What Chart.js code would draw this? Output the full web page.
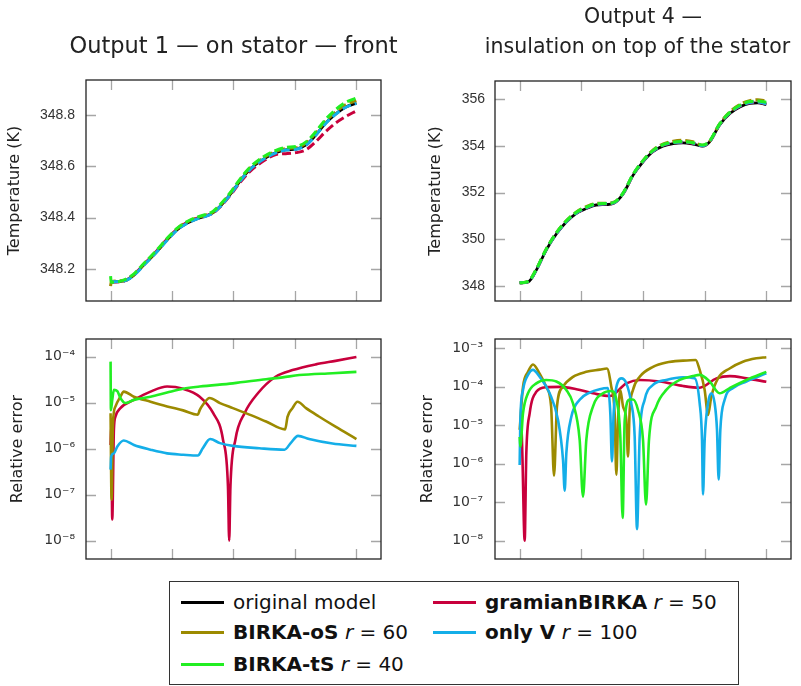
<!DOCTYPE html>
<html>
<head>
<meta charset="utf-8">
<script src="https://cdn.jsdelivr.net/npm/chart.js@4.4.0/dist/chart.umd.min.js"></script>
<style>
  body { margin: 0; background: #fff; width: 801px; height: 686px; position: relative; overflow: hidden; font-family: 'DejaVu Sans', sans-serif; }
  canvas { position: absolute; left: 0; top: 0; }
  #legend { position: absolute; left: 169px; top: 581px; width: 570px; height: 104px; box-sizing: border-box; border: 1.3px solid #333; background: #fff; }
  .item { position: absolute; height: 30px; display: flex; align-items: center; font-size: 20px; color: #111; }
  .item span { white-space: pre; }
  .swatch { width: 43px; height: 3px; margin-right: 9px; }
</style>
</head>
<body>
<canvas id="tl" width="801" height="686"></canvas>
<canvas id="tr" width="801" height="686"></canvas>
<canvas id="bl" width="801" height="686"></canvas>
<canvas id="br" width="801" height="686"></canvas>

<div id="legend">
  <div class="item" style="left:11px; top:5px;"><div class="swatch" style="background:#000"></div><span>original model</span></div>
  <div class="item" style="left:263px; top:5px;"><div class="swatch" style="background:#c8003c"></div><span><b>gramianBIRKA</b> <i>r</i> = 50</span></div>
  <div class="item" style="left:11px; top:35px;"><div class="swatch" style="background:#9c8a00"></div><span><b>BIRKA-oS</b> <i>r</i> = 60</span></div>
  <div class="item" style="left:263px; top:35px;"><div class="swatch" style="background:#14aee8"></div><span><b>only V</b> <i>r</i> = 100</span></div>
  <div class="item" style="left:11px; top:67px;"><div class="swatch" style="background:#22ee22"></div><span><b>BIRKA-tS</b> <i>r</i> = 40</span></div>
</div>

<script>
// ---- data (x in tick units 0..4) ----
const xTicks = [0, 1, 2, 3, 4];

// Output 1 temperature (K)
const tlOriginal = [[0,348.149],[0.22,348.153],[0.38,348.176],[0.54,348.215],[0.75,348.267],[0.92,348.313],[1.08,348.352],[1.24,348.378],[1.40,348.395],[1.56,348.407],[1.67,348.419],[1.78,348.443],[1.94,348.488],[2.10,348.540],[2.26,348.586],[2.48,348.627],[2.69,348.653],[2.85,348.664],[3.02,348.667],[3.18,348.683],[3.34,348.722],[3.50,348.768],[3.66,348.803],[3.82,348.830],[4.00,348.846]];
const tlGramian = [[0,348.149],[0.22,348.153],[0.38,348.177],[0.54,348.217],[0.75,348.270],[0.92,348.316],[1.08,348.355],[1.24,348.381],[1.40,348.397],[1.56,348.407],[1.67,348.418],[1.78,348.441],[1.94,348.485],[2.10,348.535],[2.26,348.578],[2.48,348.619],[2.69,348.646],[2.85,348.649],[3.02,348.653],[3.18,348.664],[3.34,348.696],[3.50,348.735],[3.66,348.768],[3.82,348.793],[4.00,348.816]];
const tlOS = [[0,348.133],[0.01,348.150],[0.22,348.154],[0.38,348.178],[0.54,348.218],[0.75,348.270],[0.92,348.317],[1.08,348.356],[1.24,348.382],[1.40,348.399],[1.56,348.410],[1.67,348.422],[1.78,348.447],[1.94,348.492],[2.10,348.545],[2.26,348.591],[2.48,348.632],[2.69,348.658],[2.85,348.669],[3.02,348.672],[3.18,348.690],[3.34,348.730],[3.50,348.776],[3.66,348.811],[3.82,348.839],[4.00,348.855]];
const tlOnlyV = [[0,348.150],[0.22,348.153],[0.38,348.175],[0.54,348.214],[0.75,348.266],[0.92,348.312],[1.08,348.351],[1.24,348.377],[1.40,348.394],[1.56,348.406],[1.67,348.418],[1.78,348.442],[1.94,348.487],[2.10,348.539],[2.26,348.585],[2.48,348.626],[2.69,348.652],[2.85,348.663],[3.02,348.666],[3.18,348.682],[3.34,348.721],[3.50,348.767],[3.66,348.802],[3.82,348.829],[4.00,348.845]];
const tlTS = [[0,348.172],[0.01,348.148],[0.22,348.157],[0.38,348.181],[0.54,348.221],[0.75,348.273],[0.92,348.319],[1.08,348.358],[1.24,348.384],[1.40,348.401],[1.56,348.413],[1.67,348.425],[1.78,348.450],[1.94,348.495],[2.10,348.548],[2.26,348.594],[2.48,348.636],[2.69,348.662],[2.85,348.673],[3.02,348.677],[3.18,348.695],[3.34,348.735],[3.50,348.783],[3.66,348.820],[3.82,348.848],[4.00,348.866]];
const tlTicks = [348.2, 348.4, 348.6, 348.8];

// Output 4 temperature (K)
const trOriginal = [[0,348.14],[0.14,348.18],[0.27,348.68],[0.43,349.54],[0.60,350.25],[0.76,350.75],[0.92,351.11],[1.08,351.32],[1.24,351.47],[1.41,351.49],[1.54,351.56],[1.68,351.96],[1.84,352.75],[2.00,353.32],[2.16,353.75],[2.32,353.99],[2.49,354.10],[2.65,354.13],[2.81,354.08],[2.97,353.99],[3.08,354.17],[3.24,354.89],[3.41,355.39],[3.57,355.67],[3.73,355.82],[3.86,355.84],[4.00,355.77]];
const trGramian = [[0,348.14],[0.14,348.19],[0.27,348.70],[0.43,349.56],[0.60,350.27],[0.76,350.77],[0.92,351.13],[1.08,351.34],[1.24,351.49],[1.41,351.51],[1.54,351.58],[1.68,351.97],[1.84,352.76],[2.00,353.34],[2.16,353.77],[2.32,354.02],[2.49,354.13],[2.65,354.16],[2.81,354.11],[2.97,354.01],[3.08,354.18],[3.24,354.90],[3.41,355.41],[3.57,355.70],[3.73,355.85],[3.86,355.87],[4.00,355.80]];
const trOS = [[0,348.14],[0.14,348.20],[0.27,348.72],[0.43,349.58],[0.60,350.30],[0.76,350.80],[0.92,351.17],[1.08,351.40],[1.24,351.54],[1.41,351.55],[1.54,351.60],[1.68,351.98],[1.84,352.78],[2.00,353.37],[2.16,353.82],[2.32,354.08],[2.49,354.20],[2.65,354.24],[2.81,354.18],[2.97,354.03],[3.08,354.20],[3.24,354.93],[3.41,355.46],[3.57,355.77],[3.73,355.94],[3.86,355.98],[4.00,355.92]];
const trOnlyV = [[0,348.14],[0.14,348.19],[0.27,348.70],[0.43,349.56],[0.60,350.27],[0.76,350.77],[0.92,351.13],[1.08,351.35],[1.24,351.50],[1.41,351.52],[1.54,351.58],[1.68,351.98],[1.84,352.77],[2.00,353.35],[2.16,353.78],[2.32,354.03],[2.49,354.14],[2.65,354.17],[2.81,354.12],[2.97,354.01],[3.08,354.19],[3.24,354.91],[3.41,355.42],[3.57,355.71],[3.73,355.86],[3.86,355.88],[4.00,355.80]];
const trTS = [[0,348.14],[0.14,348.20],[0.27,348.72],[0.43,349.58],[0.60,350.30],[0.76,350.80],[0.92,351.16],[1.08,351.38],[1.24,351.52],[1.41,351.54],[1.54,351.60],[1.68,352.00],[1.84,352.79],[2.00,353.37],[2.16,353.80],[2.32,354.05],[2.49,354.16],[2.65,354.19],[2.81,354.14],[2.97,354.04],[3.08,354.21],[3.24,354.93],[3.41,355.45],[3.57,355.74],[3.73,355.90],[3.86,355.92],[4.00,355.87]];
const trTicks = [348, 350, 352, 354, 356];

// Output 1 relative error
const blGramian = [[0,1.2e-6],[0.01,3.0e-6],[0.027,2.9e-8],[0.054,2.6e-6],[0.08,5.0e-6],[0.16,7.6e-6],[0.38,1.15e-5],[0.65,1.74e-5],[0.92,2.24e-5],[1.18,2.0e-5],[1.45,1.35e-5],[1.67,5.9e-6],[1.83,1.55e-6],[1.91,1.5e-7],[1.93,1.0e-8],[1.95,1.5e-7],[2.03,1.55e-6],[2.18,5.9e-6],[2.40,1.62e-5],[2.69,3.7e-5],[2.96,5.1e-5],[3.34,6.8e-5],[3.66,8.1e-5],[4.0,9.8e-5]];
const blOS = [[0,5.9e-6],[0.016,7.8e-8],[0.038,3.5e-6],[0.08,8.3e-6],[0.16,1.35e-5],[0.215,1.74e-5],[0.38,1.35e-5],[0.65,1.05e-5],[0.92,8.3e-6],[1.18,6.8e-6],[1.42,5.5e-6],[1.45,6.9e-6],[1.50,8.9e-6],[1.61,1.26e-5],[1.78,9.8e-6],[1.99,7.6e-6],[2.26,5.5e-6],[2.53,3.9e-6],[2.84,2.63e-6],[2.88,5.0e-6],[2.96,7.6e-6],[3.04,1.05e-5],[3.18,7.6e-6],[3.39,5.0e-6],[3.66,3.0e-6],[4.0,1.62e-6]];
const blOnlyV = [[0,3.5e-7],[0.01,6.8e-7],[0.054,7.9e-7],[0.11,1.12e-6],[0.215,1.51e-6],[0.38,1.2e-6],[0.65,9.5e-7],[0.92,7.9e-7],[1.18,7.4e-7],[1.42,7.1e-7],[1.50,1.02e-6],[1.62,1.62e-6],[1.78,1.32e-6],[1.99,1.15e-6],[2.42,1.02e-6],[2.83,9.5e-7],[2.93,1.32e-6],[3.05,1.9e-6],[3.23,1.62e-6],[3.61,1.29e-6],[4.0,1.15e-6]];
const blTS = [[0,7.8e-5],[0.005,6.9e-6],[0.027,1.15e-5],[0.054,1.9e-5],[0.11,1.78e-5],[0.16,1.26e-5],[0.24,9.8e-6],[0.38,1.15e-5],[0.65,1.35e-5],[0.92,1.66e-5],[1.18,2.0e-5],[1.45,2.24e-5],[1.99,2.63e-5],[2.53,3.24e-5],[2.80,3.55e-5],[3.07,3.98e-5],[3.61,4.37e-5],[4.0,4.68e-5]];
const blTicks = [1e-8, 1e-7, 1e-6, 1e-5, 1e-4];

// Output 4 relative error
const brGramian = [[0,9.8e-6],[0.027,9.3e-6],[0.043,1.9e-6],[0.081,1.0e-8],[0.108,1.9e-6],[0.162,2.04e-5],[0.27,7.4e-5],[0.43,9.8e-5],[0.65,1.0e-4],[0.92,8.7e-5],[1.19,6.8e-5],[1.46,5.75e-5],[1.73,1.23e-4],[1.95,1.51e-4],[2.27,1.38e-4],[2.65,1.05e-4],[2.92,9.5e-5],[3.19,1.66e-4],[3.41,1.9e-4],[3.68,1.66e-4],[4.0,1.35e-4]];
const brOS = [[0,7.6e-6],[0.054,1.0e-4],[0.135,2.45e-4],[0.216,3.8e-4],[0.324,2.2e-4],[0.43,1.0e-4],[0.51,3.1e-5],[0.557,4.9e-7],[0.605,3.1e-5],[0.70,1.0e-4],[0.865,1.82e-4],[1.08,2.45e-4],[1.30,2.8e-4],[1.416,3.0e-4],[1.486,1.0e-4],[1.54,2.04e-5],[1.568,5.2e-7],[1.595,1.35e-5],[1.632,8.3e-5],[1.676,3.1e-5],[1.73,1.35e-5],[1.757,1.55e-6],[1.784,2.5e-5],[1.838,8.3e-5],[1.946,1.82e-4],[2.162,3.3e-4],[2.378,4.3e-4],[2.649,4.8e-4],[2.854,5.0e-4],[2.919,2.75e-4],[3.0,8.3e-5],[3.054,1.86e-5],[3.108,5.6e-5],[3.216,1.66e-4],[3.405,3.0e-4],[3.62,4.5e-4],[3.838,5.5e-4],[4.0,5.9e-4]];
const brOnlyV = [[0,9.3e-7],[0.011,1.35e-5],[0.054,8.3e-5],[0.135,2.04e-4],[0.216,2.75e-4],[0.324,1.82e-4],[0.486,6.8e-5],[0.622,1.38e-5],[0.703,1.26e-6],[0.73,2.0e-7],[0.757,1.9e-6],[0.838,1.66e-5],[0.973,4.6e-5],[1.135,7.1e-5],[1.297,8.7e-5],[1.432,9.3e-5],[1.47,2.04e-5],[1.497,1.15e-6],[1.524,2.04e-5],[1.595,1.38e-4],[1.649,1.66e-4],[1.73,1.23e-4],[1.81,3.7e-5],[1.865,5.1e-6],[1.903,2.0e-8],[1.946,5.1e-6],[2.027,4.6e-5],[2.162,1.12e-4],[2.378,1.51e-4],[2.649,1.78e-4],[2.838,1.66e-4],[2.919,3.7e-5],[2.957,4.2e-6],[2.973,1.6e-7],[3.0,4.2e-6],[3.054,3.7e-5],[3.108,6.8e-5],[3.162,3.7e-5],[3.2,7.6e-6],[3.227,3.9e-7],[3.254,7.6e-6],[3.324,4.6e-5],[3.46,9.3e-5],[3.676,1.38e-4],[4.0,2.24e-4]];
const brTS = [[0,5.0e-6],[0.011,2.8e-6],[0.054,2.04e-5],[0.135,6.8e-5],[0.27,1.23e-4],[0.43,1.51e-4],[0.595,1.38e-4],[0.757,8.3e-5],[0.865,3.7e-5],[0.973,4.2e-6],[1.027,1.4e-7],[1.081,4.2e-6],[1.19,3.1e-5],[1.351,6.8e-5],[1.486,7.8e-5],[1.568,4.6e-5],[1.632,5.1e-6],[1.67,3.9e-8],[1.703,1.35e-5],[1.784,4.7e-5],[1.838,4.7e-5],[1.919,2.5e-5],[2.0,4.2e-6],[2.049,8.7e-8],[2.097,4.2e-6],[2.216,3.1e-5],[2.378,8.3e-5],[2.595,1.51e-4],[2.811,1.9e-4],[2.919,2.04e-4],[3.081,1.38e-4],[3.243,6.8e-5],[3.405,9.3e-5],[3.676,1.51e-4],[4.0,2.45e-4]];
const brTicks = [1e-8, 1e-7, 1e-6, 1e-5, 1e-4, 1e-3];

const COLORS = { original: '#000000', gramian: '#c8003c', os: '#9c8a00', onlyV: '#14aee8', ts: '#22ee22' };
const FONT = "'DejaVu Sans', sans-serif";
const TICK_FONT = "'Liberation Sans', 'DejaVu Sans', sans-serif";

// inner tick marks + frame, pgfplots style
const frameTicks = {
  id: 'frameTicks',
  beforeDatasetsDraw(chart) {
    const { ctx, chartArea: a, scales: { x, y } } = chart;
    ctx.save();
    ctx.strokeStyle = '#a6a6a6';
    ctx.lineWidth = 1.3;
    ctx.beginPath();
    xTicks.forEach(v => {
      const px = Math.round(x.getPixelForValue(v)) + 0.5;
      ctx.moveTo(px, a.bottom); ctx.lineTo(px, a.bottom - 10);
      ctx.moveTo(px, a.top); ctx.lineTo(px, a.top + 10);
    });
    y.ticks.forEach(t => {
      const py = Math.round(y.getPixelForValue(t.value)) + 0.5;
      ctx.moveTo(a.left, py); ctx.lineTo(a.left + 10, py);
      ctx.moveTo(a.right, py); ctx.lineTo(a.right - 10, py);
    });
    ctx.stroke();
    ctx.restore();
  },
  afterDatasetsDraw(chart) {
    const { ctx, chartArea: a } = chart;
    ctx.save();
    ctx.strokeStyle = '#222';
    ctx.lineWidth = 1.3;
    ctx.strokeRect(a.left, a.top, a.right - a.left, a.bottom - a.top);
    ctx.restore();
  }
};

// panel heading lines (drawn without width squeezing)
const panelTitle = {
  id: 'panelTitle',
  afterDraw(chart, args, opts) {
    if (!opts.lines) return;
    const { ctx } = chart;
    ctx.save();
    ctx.font = opts.size + 'px ' + FONT;
    ctx.fillStyle = '#222';
    ctx.textAlign = 'center';
    ctx.textBaseline = 'alphabetic';
    opts.lines.forEach((t, i) => ctx.fillText(t, opts.centers[i], opts.baselines[i]));
    ctx.restore();
  }
};

const SUP = { '-': '\u207b', '0': '\u2070', '1': '\u00b9', '2': '\u00b2', '3': '\u00b3', '4': '\u2074', '5': '\u2075', '6': '\u2076', '7': '\u2077', '8': '\u2078', '9': '\u2079' };
function powLabel(v) {
  const e = String(Math.round(Math.log10(v)));
  return '10' + e.split('').map(c => SUP[c]).join('');
}

function series(label, data, color, dashed, order, width) {
  return {
    label: label,
    data: data.map(p => ({ x: p[0], y: p[1] })),
    borderColor: color,
    borderWidth: width,
    borderDash: dashed ? [9, 4] : [],
    pointRadius: 0,
    fill: false,
    cubicInterpolationMode: 'monotone',
    order: order
  };
}

function makePanel(id, opts) {
  const ctx = document.getElementById(id).getContext('2d');
  return new Chart(ctx, {
    type: 'line',
    data: { datasets: opts.datasets },
    options: {
      responsive: false,
      animation: false,
      events: [],
      layout: { padding: opts.padding },
      plugins: {
        legend: { display: false },
        tooltip: { enabled: false },
        title: { display: false },
        panelTitle: opts.heading || {}
      },
      scales: {
        x: { type: 'linear', display: false, min: -0.4, max: 4.4 },
        y: {
          type: opts.yType,
          min: opts.yMin,
          max: opts.yMax,
          grid: { display: false, drawTicks: false },
          border: { display: false },
          afterFit: s => { s.width = opts.axisWidth; },
          afterBuildTicks: s => { s.ticks = opts.yTicks.map(v => ({ value: v })); },
          ticks: {
            color: '#333',
            padding: opts.tickPad,
            font: { family: opts.tickFont, size: 14 },
            callback: opts.tickFmt
          },
          title: {
            display: true,
            text: opts.yTitle,
            color: '#222',
            font: { family: FONT, size: 16, lineHeight: 1.2 },
            padding: { top: opts.titlePadTop, bottom: 0 }
          }
        }
      }
    },
    plugins: [frameTicks, panelTitle]
  });
}

function tempSets(orig, gram, os, onlyV, ts) {
  return [
    series('original model', orig, COLORS.original, false, 5, 2.8),
    series('gramianBIRKA r = 50', gram, COLORS.gramian, true, 4, 3),
    series('BIRKA-oS r = 60', os, COLORS.os, true, 3, 3),
    series('only V r = 100', onlyV, COLORS.onlyV, true, 2, 3),
    series('BIRKA-tS r = 40', ts, COLORS.ts, true, 1, 3)
  ];
}
function errSets(gram, os, onlyV, ts) {
  return [
    series('gramianBIRKA r = 50', gram, COLORS.gramian, false, 4, 2.6),
    series('BIRKA-oS r = 60', os, COLORS.os, false, 3, 2.6),
    series('only V r = 100', onlyV, COLORS.onlyV, false, 2, 2.6),
    series('BIRKA-tS r = 40', ts, COLORS.ts, false, 1, 2.6)
  ];
}

makePanel('tl', {
  datasets: tempSets(tlOriginal, tlGramian, tlOS, tlOnlyV, tlTS),
  padding: { left: 0, top: 80, right: 801 - 381, bottom: 686 - 301 },
  heading: { lines: ['Output 1 \u2014 on stator \u2014 front'], centers: [233.5], baselines: [53], size: 22.5 },
  yType: 'linear', yMin: 348.075, yMax: 348.936, yTicks: tlTicks,
  tickFmt: v => v.toFixed(1), axisWidth: 86, tickPad: 11, tickFont: TICK_FONT,
  yTitle: 'Temperature (K)', titlePadTop: 5.4
});

makePanel('tr', {
  datasets: tempSets(trOriginal, trGramian, trOS, trOnlyV, trTS),
  padding: { left: 400, top: 81, right: 801 - 791, bottom: 686 - 301 },
  heading: { lines: ['Output 4 \u2014', 'insulation on top of the stator'], centers: [643, 637.5], baselines: [23, 53], size: 20.5 },
  yType: 'linear', yMin: 347.36, yMax: 356.78, yTicks: trTicks,
  tickFmt: v => String(v), axisWidth: 95, tickPad: 10, tickFont: TICK_FONT,
  yTitle: 'Temperature (K)', titlePadTop: 26.4
});

makePanel('bl', {
  datasets: errSets(blGramian, blOS, blOnlyV, blTS),
  padding: { left: 0, top: 339, right: 801 - 381, bottom: 686 - 559 },
  yType: 'logarithmic', yMin: 4.0e-9, yMax: 2.42e-4, yTicks: blTicks,
  tickFmt: v => powLabel(v), axisWidth: 86, tickPad: 11, tickFont: FONT,
  yTitle: 'Relative error', titlePadTop: 8.4
});

makePanel('br', {
  datasets: errSets(brGramian, brOS, brOnlyV, brTS),
  padding: { left: 400, top: 339, right: 801 - 791, bottom: 686 - 559 },
  yType: 'logarithmic', yMin: 3.35e-9, yMax: 1.75e-3, yTicks: brTicks,
  tickFmt: v => powLabel(v), axisWidth: 95, tickPad: 12, tickFont: FONT,
  yTitle: 'Relative error', titlePadTop: 18.4
});
</script>
</body>
</html>
